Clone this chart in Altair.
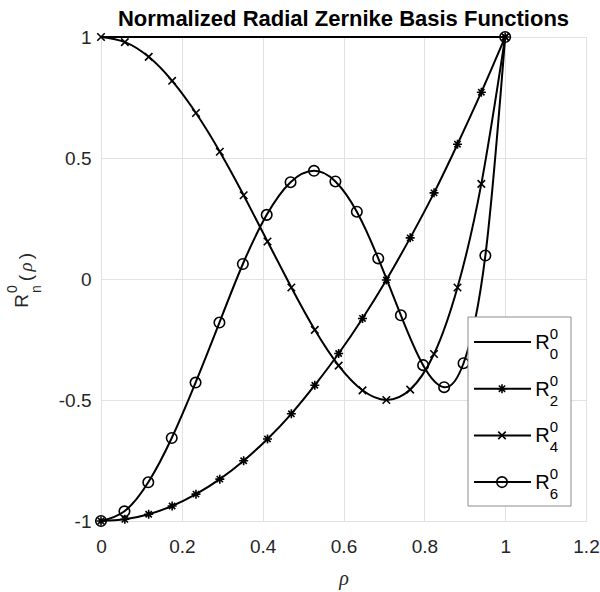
import altair as alt
import pandas as pd

# ---- data ----
rho = [0, 0.059, 0.118, 0.176, 0.235, 0.294, 0.353, 0.412, 0.471, 0.529,
       0.588, 0.647, 0.706, 0.765, 0.824, 0.882, 0.941, 1.0]
r0_rho = [0, 1.0]
r0 = [1.0, 1.0]
r2 = [-1.0, -0.993, -0.972, -0.938, -0.889, -0.827, -0.751, -0.661, -0.557, -0.439,
      -0.308, -0.163, -0.004, 0.170, 0.356, 0.557, 0.772, 1.0]
r4 = [1.0, 0.979, 0.918, 0.819, 0.686, 0.526, 0.346, 0.155, -0.035, -0.210,
      -0.358, -0.460, -0.500, -0.457, -0.310, -0.035, 0.393, 1.0]
rho6 = [0, 0.058, 0.117, 0.175, 0.234, 0.293, 0.351, 0.41, 0.469, 0.527,
        0.58, 0.633, 0.686, 0.742, 0.797, 0.849, 0.897, 0.951, 1.0]
r6 = [-1.0, -0.96, -0.84, -0.657, -0.428, -0.18, 0.062, 0.265, 0.40, 0.447,
      0.403, 0.278, 0.085, -0.15, -0.356, -0.447, -0.348, 0.097, 1.0]
x_ticks = [0, 0.2, 0.4, 0.6, 0.8, 1.0, 1.2]
y_ticks = [-1, -0.5, 0, 0.5, 1]
orders = ["0", "2", "4", "6"]
title_text = "Normalized Radial Zernike Basis Functions"

ASTERISK = "M-1,0L1,0M0,-1L0,1M-0.7,-0.7L0.7,0.7M-0.7,0.7L0.7,-0.7"
XMARK = "M-1,-1L1,1M-1,1L1,-1"

W, H = 485, 484
FONT = "Liberation Sans"
TXT = "#262626"

xs = alt.Scale(domain=[0, 1.2], nice=False, zero=False)
ys = alt.Scale(domain=[-1, 1], nice=False, zero=False)

x_axis = alt.Axis(values=x_ticks, title="ρ", grid=True, ticks=False, domain=False,
                  labelFontSize=19, labelPadding=16, labelColor=TXT, labelFont=FONT,
                  labelFlush=False, labelExpr="toString(datum.value)",
                  titleFont="Liberation Serif", titleFontStyle="italic",
                  titleFontWeight="normal", titleFontSize=20, titleColor=TXT,
                  titleY=57, titleBaseline="middle",
                  gridColor="#e2e2e2", gridWidth=1)
y_axis = alt.Axis(values=y_ticks, title=None, grid=True, ticks=False, domain=False,
                  labelFontSize=19, labelPadding=10, labelColor=TXT, labelFont=FONT,
                  labelFlush=False, labelExpr="toString(datum.value)",
                  gridColor="#e2e2e2", gridWidth=1)


def xy(df_x="rho", df_y="val"):
    return dict(x=alt.X(f"{df_x}:Q", scale=xs, axis=x_axis),
                y=alt.Y(f"{df_y}:Q", scale=ys, axis=y_axis))


df0 = pd.DataFrame({"rho": r0_rho, "val": r0})
df2 = pd.DataFrame({"rho": rho, "val": r2})
df4 = pd.DataFrame({"rho": rho, "val": r4})
df6 = pd.DataFrame({"rho": rho6, "val": r6})

layers = []
layers.append(alt.Chart(df0).mark_line(color="black", strokeWidth=2).encode(**xy()))
for df, shape, size in [(df2, ASTERISK, 81), (df4, XMARK, 56), (df6, "circle", 110)]:
    layers.append(alt.Chart(df).mark_line(color="black", strokeWidth=2,
                                          interpolate="natural").encode(**xy()))
    layers.append(alt.Chart(df).mark_point(color="black", filled=False, shape=shape,
                                           size=size, strokeWidth=1.6,
                                           opacity=1).encode(**xy()))

# ---- legend (drawn inside the plot, lower right) ----
leg_df = pd.DataFrame({"n": orders})
box_l, box_r, box_t, box_b = 367, 470, 280, 469
layers.append(alt.Chart(leg_df.iloc[[0]]).mark_rect(fill="white", stroke="#8c8c8c",
                                                  strokeWidth=1).encode(
    x=alt.value(box_l), x2=alt.value(box_r), y=alt.value(box_t), y2=alt.value(box_b)))
leg_shapes = [None, (ASTERISK, 81), (XMARK, 56), ("circle", 110)]
for i, n in enumerate(orders):
    yc = box_t + 25 + i * 46.7
    d = leg_df.iloc[[i]]
    layers.append(alt.Chart(d).mark_rule(color="black", strokeWidth=2).encode(
        x=alt.value(373), x2=alt.value(430), y=alt.value(yc)))
    if leg_shapes[i] is not None:
        shp, sz = leg_shapes[i]
        layers.append(alt.Chart(d).mark_point(color="black", filled=False, shape=shp,
                                              size=sz, strokeWidth=1.6, opacity=1).encode(
            x=alt.value(401), y=alt.value(yc)))
    layers.append(alt.Chart(d).mark_text(text="R", fontSize=20, font=FONT, color="black",
                                         align="center", baseline="middle").encode(
        x=alt.value(441.5), y=alt.value(yc + 1)))
    layers.append(alt.Chart(d).mark_text(fontSize=15, font=FONT, color="black",
                                         align="center", baseline="middle", text="0").encode(
        x=alt.value(453), y=alt.value(yc - 8)))
    layers.append(alt.Chart(d).mark_text(fontSize=15, font=FONT, color="black",
                                         align="center", baseline="middle").encode(
        x=alt.value(453), y=alt.value(yc + 12), text="n:N"))

# ---- y-axis title  R^0_n(rho), rotated ----
yt = pd.DataFrame({"t": ["R"]})
layers.append(alt.Chart(yt).mark_text(text="R", fontSize=19, font=FONT, color=TXT,
                                      angle=270, align="center", baseline="middle").encode(
    x=alt.value(-79), y=alt.value(264)))
layers.append(alt.Chart(yt).mark_text(text="0", fontSize=14, font=FONT, color=TXT,
                                      angle=270, align="center", baseline="middle").encode(
    x=alt.value(-88), y=alt.value(252)))
layers.append(alt.Chart(yt).mark_text(text="n", fontSize=14, font=FONT, color=TXT,
                                      angle=270, align="center", baseline="middle").encode(
    x=alt.value(-64), y=alt.value(252)))
layers.append(alt.Chart(yt).mark_text(text="(", fontSize=19, font=FONT, color=TXT,
                                      angle=270, align="center", baseline="middle").encode(
    x=alt.value(-75), y=alt.value(241)))
layers.append(alt.Chart(yt).mark_text(text="ρ", fontSize=19, font="Liberation Serif",
                                      fontStyle="italic", color=TXT,
                                      angle=270, align="center", baseline="middle").encode(
    x=alt.value(-75), y=alt.value(230)))
layers.append(alt.Chart(yt).mark_text(text=")", fontSize=19, font=FONT, color=TXT,
                                      angle=270, align="center", baseline="middle").encode(
    x=alt.value(-75), y=alt.value(219)))

chart = alt.layer(*layers).properties(
    width=W, height=H,
    title=alt.TitleParams(title_text, font=FONT, fontSize=22, fontWeight="bold",
                          color="black", anchor="middle", offset=-3, frame="group"),
    autosize=alt.AutoSizeParams(type="none"),
    padding={"left": 101, "top": 37, "right": 14, "bottom": 71},
).configure_view(stroke="#5a5a5a", strokeWidth=1).configure(font=FONT)

chart.save("out.html", embed_options={"renderer": "svg", "actions": False})
